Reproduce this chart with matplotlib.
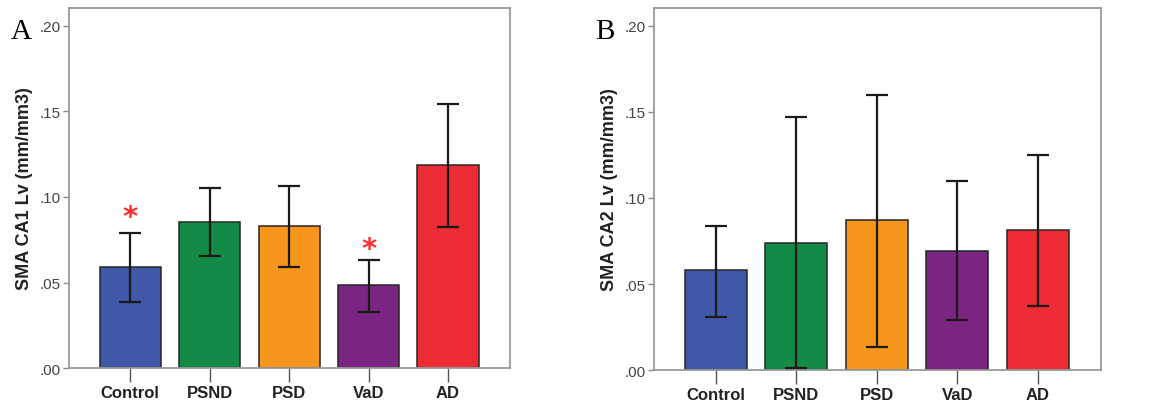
import numpy as np
import matplotlib
matplotlib.use("Agg")
import matplotlib.pyplot as plt
from matplotlib.ticker import FuncFormatter

groups = ["Control", "PSND", "PSD", "VaD", "AD"]
colors = ["#3F58A8", "#138B47", "#F7961C", "#7A2581", "#EE2C35"]

# panel A: SMA CA1 Lv
ca1_mean = [0.0592, 0.0856, 0.0832, 0.0485, 0.1187]
ca1_low = [0.0388, 0.0655, 0.0589, 0.0329, 0.0823]
ca1_high = [0.0787, 0.1054, 0.1066, 0.0632, 0.1542]
ca1_star = [0.0885, None, None, 0.0695, None]

# panel B: SMA CA2 Lv
ca2_mean = [0.0579, 0.0739, 0.0871, 0.0694, 0.0812]
ca2_low = [0.0307, 0.0012, 0.0136, 0.0288, 0.0375]
ca2_high = [0.0840, 0.1468, 0.1600, 0.1098, 0.1250]

yticks = [0.0, 0.05, 0.10, 0.15, 0.20]


def fmt(v, pos):
    return ("%.2f" % v).lstrip("0")


def draw_panel(ax, mean, low, high, ylabel, letter, stars=None):
    x = np.arange(len(groups))
    mean = np.array(mean)
    yerr = [mean - np.array(low), np.array(high) - mean]
    ax.bar(x, mean, width=0.77, color=colors, edgecolor="#262626", linewidth=1.1, zorder=2)
    ax.errorbar(x, mean, yerr=yerr, fmt="none", ecolor="#1a1a1a", elinewidth=1.6,
                capsize=8, capthick=1.6, zorder=3)
    if stars:
        for xi, s in zip(x, stars):
            if s is not None:
                ax.text(xi, s, "*", color="#FF2A2A", ha="center", va="center",
                        fontsize=21, fontweight="bold", family="DejaVu Sans")
    ax.set_xlim(-0.77, 4.78)
    ax.set_ylim(0, 0.2105)
    ax.set_yticks(yticks)
    ax.yaxis.set_major_formatter(FuncFormatter(fmt))
    ax.set_xticks(x)
    ax.set_xticklabels(groups, fontsize=12, fontweight="bold", color="#222222")
    ax.tick_params(axis="x", length=10, width=1.0, color="#555555", pad=2)
    ax.tick_params(axis="y", length=4, width=1.0, color="#888888", labelsize=11,
                   labelcolor="#444444", pad=2)
    for sp in ax.spines.values():
        sp.set_color("#9a9a9a")
        sp.set_linewidth(1.3)
    ax.set_ylabel(ylabel, fontsize=13, fontweight="bold", color="#222222", labelpad=5)
    ax.text(-0.132, 0.936, letter, transform=ax.transAxes, fontsize=21,
            family="Liberation Serif", ha="left", va="center")


plt.rcParams["font.family"] = ["Liberation Sans", "DejaVu Sans"]

fig = plt.figure(figsize=(11.5, 4.06), dpi=100)
ax1 = fig.add_axes([0.060, 0.091, 0.3835, 0.887])
ax2 = fig.add_axes([0.5687, 0.0862, 0.3883, 0.8918])

draw_panel(ax1, ca1_mean, ca1_low, ca1_high, "SMA CA1 Lv (mm/mm3)", "A", ca1_star)
draw_panel(ax2, ca2_mean, ca2_low, ca2_high, "SMA CA2 Lv (mm/mm3)", "B")

fig.savefig("out.png", dpi=100)
